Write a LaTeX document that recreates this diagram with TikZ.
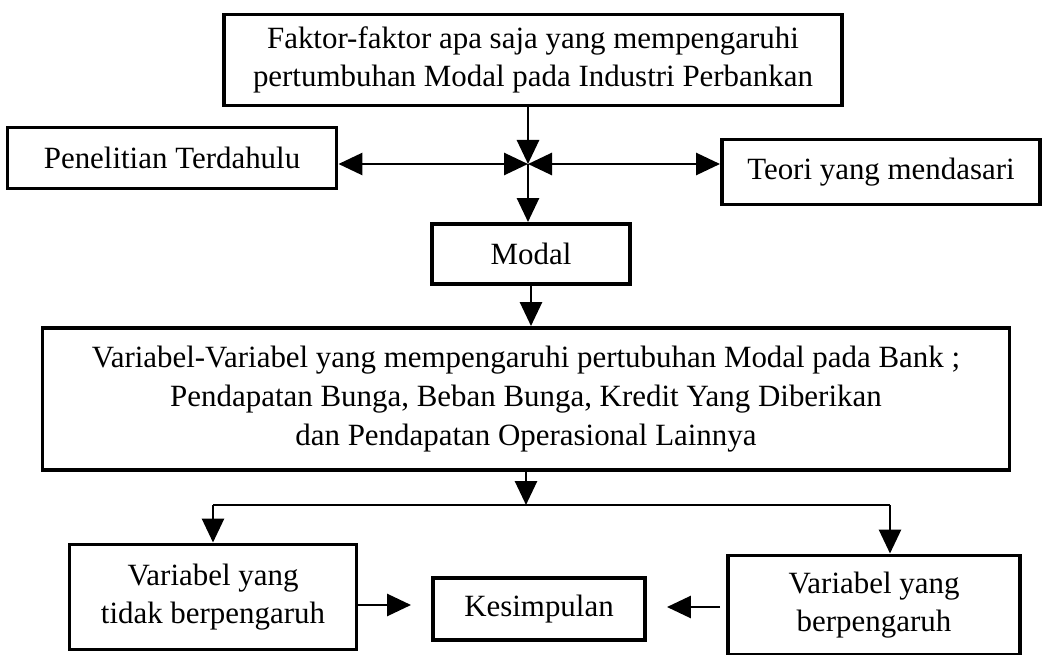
\documentclass[tikz,border=0pt]{standalone}
\usepackage{fontspec}
\setmainfont{Liberation Serif}
\usetikzlibrary{arrows.meta,positioning}
\tikzset{
    kotak/.style={draw, line width=2.8pt, align=center, inner sep=0pt, font=\fontsize{22}{27.5}\selectfont},
    panah/.style={line width=2pt, -{Triangle[length=6mm,width=5.5mm]}},
    duapanah/.style={line width=2pt, {Triangle[length=6mm,width=5.5mm]}-{Triangle[length=6mm,width=5.5mm]}}
}
\begin{document}
\begin{tikzpicture}
    \useasboundingbox (0,0) rectangle (26.175,-16.375);
    % kotak-kotak
    \node[kotak, minimum width=15.45cm, minimum height=2.275cm] (faktor) at (13.325,-1.5) {Faktor-faktor apa saja yang mempengaruhi\\pertumbuhan Modal pada Industri Perbankan};
    \node[kotak, minimum width=8.225cm, minimum height=1.525cm] (penelitian) at (4.3,-3.95) {Penelitian Terdahulu};
    \node[kotak, minimum width=7.95cm, minimum height=1.625cm] (teori) at (22.025,-4.3) {Teori yang mendasari};
    \coordinate (temu) at (13.2,-4.1);
    \node[kotak, minimum width=4.95cm, minimum height=1.5cm] (modal) at (13.275,-6.35) {Modal};
    \node[kotak, minimum width=24.175cm, minimum height=3.55cm] (variabel) at (13.15,-9.975) {Variabel-Variabel yang mempengaruhi pertubuhan Modal pada Bank ;\\Pendapatan Bunga, Beban Bunga, Kredit Yang Diberikan\\dan Pendapatan Operasional Lainnya};
    \coordinate (cabang) at (13.15,-12.625);
    \node[kotak, minimum width=7.175cm, minimum height=2.625cm] (tidak) at (5.325,-14.925) {Variabel yang\\tidak berpengaruh};
    \node[kotak, minimum width=5.3cm, minimum height=1.55cm] (simpul) at (13.475,-15.225) {Kesimpulan};
    \node[kotak, minimum width=7.3cm, minimum height=2.475cm] (pengaruh) at (21.85,-15.125) {Variabel yang\\berpengaruh};

    % panah
    \draw[panah] (faktor.south -| temu) -- (temu);
    \draw[duapanah] (temu) -- (temu -| penelitian.east);
    \draw[duapanah] (temu) -- (temu -| teori.west);
    \draw[panah] (temu) -- (temu |- modal.north);
    \draw[panah] (modal.south) -- (modal.south |- variabel.north);
    \draw[panah] (variabel.south) -- (cabang);
    \draw[line width=2pt] (tidak.north |- cabang) -- ([xshift=0.4cm]pengaruh.north |- cabang);
    \draw[panah] (tidak.north |- cabang) -- (tidak.north);
    \draw[panah] ([xshift=0.4cm]pengaruh.north |- cabang) -- ([xshift=0.4cm]pengaruh.north);
    \draw[panah, shorten >=0.5cm] ([yshift=-0.2cm]tidak.east) -- ([yshift=-0.2cm]tidak.east -| simpul.west);
    \draw[panah, shorten >=0.5cm, shorten <=0.15cm] ([yshift=-0.05cm]pengaruh.west) -- ([yshift=-0.05cm]pengaruh.west -| simpul.east);
\end{tikzpicture}
\end{document}
